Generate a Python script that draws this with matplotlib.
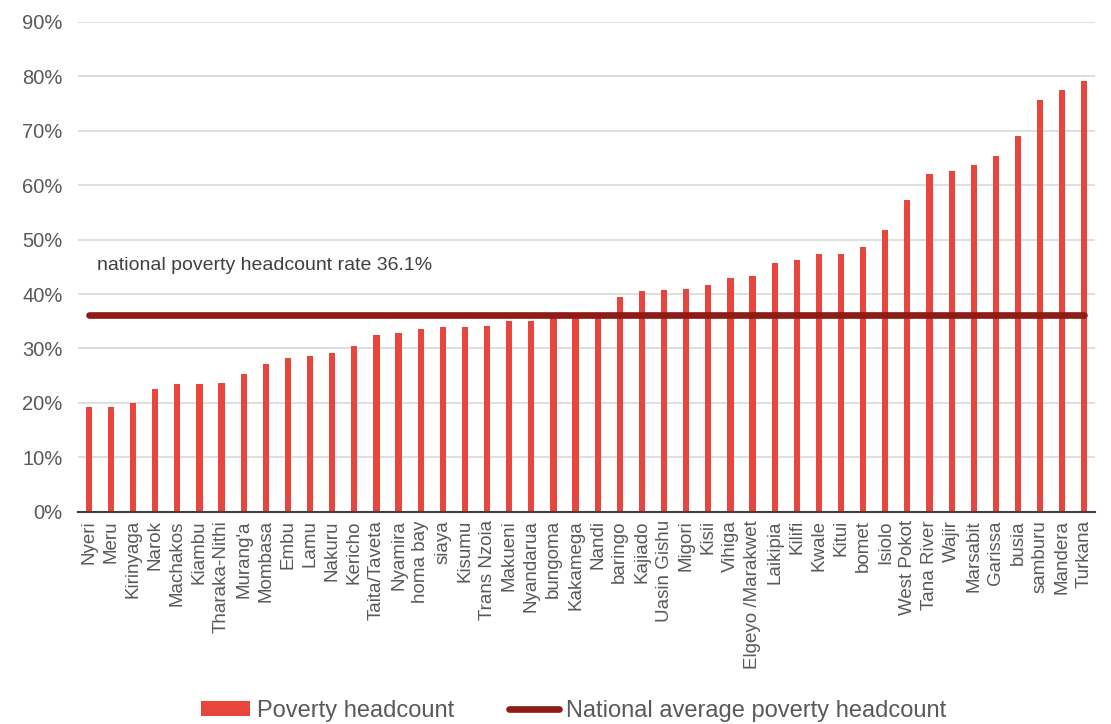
import matplotlib.pyplot as plt
import numpy as np
from matplotlib.ticker import PercentFormatter

plt.rcParams["font.family"] = ["Liberation Sans", "DejaVu Sans"]

RED = "#E8453C"
DARK_RED = "#8E1B15"
GREY = "#595959"

counties = [
    "Nyeri", "Meru", "Kirinyaga", "Narok", "Machakos", "Kiambu", "Tharaka-Nithi",
    "Murang'a", "Mombasa", "Embu", "Lamu", "Nakuru", "Kericho", "Taita/Taveta",
    "Nyamira", "homa bay", "siaya", "Kisumu", "Trans Nzoia", "Makueni", "Nyandarua",
    "bungoma", "Kakamega", "Nandi", "baringo", "Kajiado", "Uasin Gishu", "Migori",
    "Kisii", "Vihiga", "Elgeyo /Marakwet", "Laikipia", "Kilifi", "Kwale", "Kitui",
    "bomet", "Isiolo", "West Pokot", "Tana River", "Wajir", "Marsabit", "Garissa",
    "busia", "samburu", "Mandera", "Turkana",
]
headcount = [
    19.2, 19.3, 20.0, 22.6, 23.4, 23.4, 23.7, 25.4, 27.2, 28.2, 28.6, 29.2, 30.4,
    32.4, 32.8, 33.5, 33.9, 34.0, 34.1, 35.0, 35.0, 35.8, 35.8, 36.0, 39.4, 40.5,
    40.8, 41.0, 41.6, 43.0, 43.3, 45.7, 46.3, 47.3, 47.4, 48.6, 51.7, 57.3, 62.0,
    62.5, 63.6, 65.3, 69.1, 75.6, 77.4, 79.2,
]
national_rate = 36.1

fig = plt.figure(figsize=(11.11, 7.24), dpi=100)
ax = fig.add_axes([0.070, 0.293, 0.916, 0.677])

x = np.arange(len(counties))
bars = ax.bar(x, headcount, width=0.28, color=RED, zorder=2)
line, = ax.plot([x[0], x[-1]], [national_rate, national_rate], color=DARK_RED, lw=4.8,
                solid_capstyle="round", zorder=3)

ax.text(0.35, 45.3, f"national poverty headcount rate {national_rate}%", fontsize=14,
        color="#404040", va="center")

ax.set_xlim(-0.5, len(counties) - 0.5)
ax.set_ylim(0, 90)
ax.set_yticks(np.arange(0, 91, 10))
ax.yaxis.set_major_formatter(PercentFormatter(100, decimals=0))
ax.set_xticks(x)
ax.set_xticklabels(counties, rotation=90, fontsize=13.5, color=GREY)
ax.tick_params(axis="y", labelsize=14.5, labelcolor=GREY, length=0, pad=11)
ax.tick_params(axis="x", length=0, pad=6)
ax.grid(True, axis="y", color="#D9D9D9", lw=1.2, zorder=0)
for s in ["top", "right", "left"]:
    ax.spines[s].set_visible(False)
ax.spines["bottom"].set_color("#404040")
ax.spines["bottom"].set_linewidth(1.5)
ax.spines["bottom"].set_zorder(4)

fig.legend([bars, line], ["Poverty headcount", "National average poverty headcount"],
           loc="lower center", bbox_to_anchor=(0.516, -0.026), ncol=2, frameon=False,
           fontsize=17, labelcolor=GREY, handlelength=2.1, handleheight=0.6,
           handletextpad=0.3, columnspacing=2.3)

plt.savefig("out.png", dpi=100)
